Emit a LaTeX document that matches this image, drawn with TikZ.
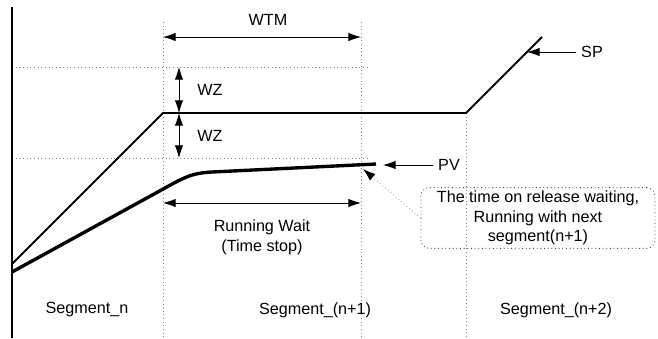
\documentclass[tikz,border=0pt]{standalone}
\usepackage{fontspec}
\setmainfont{Liberation Sans}
\usetikzlibrary{arrows.meta}

\begin{document}
\begin{tikzpicture}[x=0.025cm, y=-0.025cm]
		% formatos
		\tikzstyle{every node}=[font=\fontsize{11.5}{14}\selectfont]
		\tikzstyle{guia} = [gray, dotted, line width=0.6pt]
		\tikzstyle{punta} = [>={Latex[length=9pt,width=6pt]}]
		\tikzstyle{cota} = [punta, <->, semithick]
		\tikzstyle{arrow} = [punta, ->, semithick]
		\tikzstyle{nota} = [draw=black!75, dotted, line width=0.6pt, rounded corners=6pt, align=center,
			minimum width=5.85cm, minimum height=1.52cm, inner sep=2pt]
		\useasboundingbox (0,0) rectangle (658,338);
		% puntos
		\coordinate (ejeA) at (12,7);
		\coordinate (ejeB) at (12,338);
		\coordinate (t1A) at (163,22);
		\coordinate (t1B) at (163,338);
		\coordinate (t2A) at (361,22);
		\coordinate (t2B) at (361,338);
		\coordinate (t3A) at (466,113);
		\coordinate (t3B) at (466,338);
		\coordinate (zA) at (12,67);
		\coordinate (zA2) at (367,67);
		\coordinate (zB) at (12,158);
		\coordinate (zB2) at (367,158);
		\coordinate (sp0) at (12,264);
		\coordinate (sp1) at (163,113);
		\coordinate (sp2) at (466,113);
		\coordinate (sp3) at (542,37);
		\coordinate (pv0) at (12,272);
		\coordinate (pv1) at (376,164);
		% guias y eje
		\draw [guia] (t1A) -- (t1B);
		\draw [guia] (t2A) -- (t2B);
		\draw [guia] (t3A) -- (t3B);
		\draw [guia] (zA) -- (zA2);
		\draw [guia] (zB) -- (zB2);
		\draw [line width=1pt] (ejeA) -- (ejeB);
		% curvas
		\draw [line width=1.4pt] (sp0) -- (sp1) -- (sp2) -- (sp3);
		\draw [line width=2.4pt] (pv0) -- (165,188) .. controls (185,177) and (192,173) .. (212,172) -- (pv1);
		% nodos
		\node (WTM) at (268,20) {WTM};
		\node (WZa) at (210,90) {WZ};
		\node (WZb) at (210,136) {WZ};
		\node (SP) at (592,52) {SP};
		\node (PV) at (449,165) {PV};
		\node [align=center] (RW) at (262,237) {Running Wait\\(Time stop)};
		\node [nota] (N) at (538,218) {The time on release waiting,\\Running with next\\segment(n+1)};
		\node (S1) at (87,310) {Segment\_n};
		\node (S2) at (315,310) {Segment\_(n+1)};
		\node (S3) at (556,310) {Segment\_(n+2)};
		% relaciones
		\draw [cota] (163,37) -- (361,37);
		\draw [cota] (179,67) -- (179,113);
		\draw [cota] (179,113) -- (179,158);
		\draw [cota] (163,203) -- (361,203);
		\draw [arrow] (SP) -- (527,52);
		\draw [arrow] (PV) -- (383,165);
		\draw [gray, dotted, line width=0.5pt, punta, -{Latex[length=9pt,width=6pt,color=black]}] (N.west) -- (363,169);
	\end{tikzpicture}
\end{document}
